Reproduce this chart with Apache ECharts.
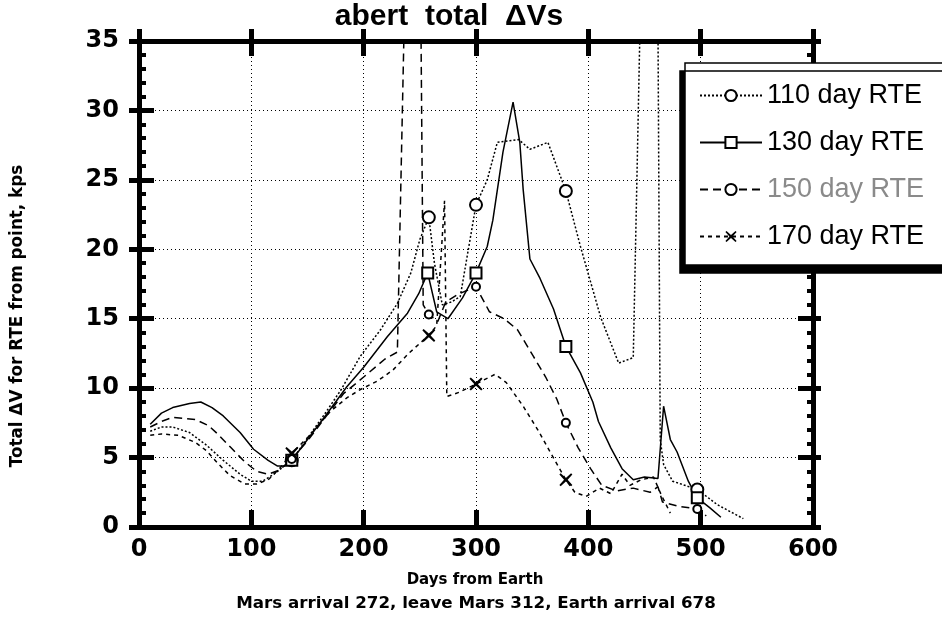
<!DOCTYPE html>
<html>
<head>
<meta charset="utf-8">
<script src="https://cdn.jsdelivr.net/npm/echarts@6/dist/echarts.min.js"></script>
<style>html,body{margin:0;padding:0;background:#fff}#c{width:942px;height:620px}</style>
</head>
<body>
<div id="c"></div>
<script>
// ---- data ----
const seriesNames = ['110 day RTE', '130 day RTE', '150 day RTE', '170 day RTE'];
const xTicks = [0, 100, 200, 300, 400, 500, 600];
const yTicks = [0, 5, 10, 15, 20, 25, 30, 35];

const days110 = [10,20,30,45,60,75,90,100,110,120,128,136,150,165,180,197,215,230,242,250,258,263,270,278,286,300,310,319,338,348,364,380,393,411,427,440,446,462,464,467,475,497,515,538];
const vals110 = [6.9,7.2,7.2,6.8,5.9,4.8,3.8,3.3,3.3,3.8,4.3,4.8,6.4,8.1,9.9,12.3,14.2,16.1,18.3,20.7,22.3,19.0,16.0,16.2,16.6,23.2,25.0,27.7,27.9,27.2,27.7,24.2,20.2,15.1,11.8,12.2,36,36,6.3,4.5,3.3,2.7,1.6,0.6];
const marks110 = [136,258,300,380,497];

const days130 = [10,20,30,45,55,65,75,90,102,115,123,130,136,150,165,185,200,221,239,249,257,265,275,288,300,310,315,324,333,339,342,348,357,369,380,393,404,409,420,430,440,450,462,467,473,479,489,497,508,518];
const vals130 = [7.4,8.2,8.6,8.9,9.0,8.6,8.0,6.8,5.6,4.8,4.4,4.4,4.8,6.3,7.9,10.1,11.5,13.7,15.4,16.8,18.3,15.5,15.0,16.5,18.3,20.2,22.1,27.0,30.6,27.7,24.3,19.3,17.9,15.7,13.0,11.1,9.0,7.6,5.7,4.2,3.4,3.6,3.5,8.7,6.3,5.4,3.3,2.1,1.4,0.7];
const marks130 = [136,257,300,380,497];

const days150 = [10,20,30,50,62,70,82,94,105,115,125,136,150,165,182,200,219,230,236,251,253,258,266,273,285,300,312,325,337,351,362,372,380,391,402,412,425,440,455,462,466,480,497,505];
const vals150 = [7.2,7.6,7.9,7.75,7.3,6.7,5.7,4.7,4.0,3.8,4.1,4.9,6.2,7.8,9.6,10.8,12.1,12.6,36,36,16.0,15.3,14.8,16.2,16.8,17.3,15.5,15.0,14.2,12.3,10.8,9.2,7.5,5.7,4.2,3.0,2.6,2.8,2.5,2.9,1.8,1.5,1.3,0.8];
const marks150 = [136,258,300,380,497];

const days170 = [10,20,35,50,60,70,81,94,105,115,125,136,152,170,185,197,212,226,240,258,265,272,274,285,300,317,327,342,355,366,380,388,398,410,420,430,437,447,458,465,473];
const vals170 = [6.6,6.7,6.6,6.1,5.5,4.6,3.7,3.1,3.1,3.4,4.2,5.3,6.6,8.3,9.3,9.9,10.5,11.3,12.5,13.8,14.5,23.5,9.4,9.7,10.3,11.0,10.4,8.7,7.0,5.4,3.4,2.5,2.2,2.8,2.4,3.8,3.0,3.4,3.6,2.3,1.0];
const marks170 = [136,258,300,380];

// ---- chart ----
const chart = echarts.init(document.getElementById('c'), null, {renderer: 'canvas'});
const FONT = 'Liberation Sans';
const TICKFONT = 'DejaVu Sans';
const symX = 'path://M1,0L5,3.6L9,0L10,1L6.4,5L10,9L9,10L5,6.4L1,10L0,9L3.6,5L0,1Z';

function pairs(d, v) { return d.map((x, i) => [x, v[i]]); }
function sizer(marks, s) { return (val) => (marks.indexOf(val[0]) >= 0 ? s : 0); }

const xBase = {type: 'value', min: xTicks[0], max: xTicks[xTicks.length - 1], interval: 100};
const yBase = {type: 'value', min: yTicks[0], max: yTicks[yTicks.length - 1], interval: 5};
const thick = {color: '#000', width: 5};
const noLine = {show: false};

function mkSeries(name, d, v, marks, symbol, size, lineType, extraItem) {
  return {
    type: 'line', name: name, data: pairs(d, v),
    xAxisIndex: 0, yAxisIndex: 0,
    symbol: symbol, symbolSize: sizer(marks, size),
    showSymbol: true, showAllSymbol: true, clip: true,
    lineStyle: {color: '#000', width: 1.5, type: lineType},
    itemStyle: Object.assign({color: '#000', borderWidth: 1.6}, extraItem || {}),
    emphasis: {disabled: true}
  };
}

chart.setOption({
  animation: false,
  backgroundColor: '#fff',
  grid: {left: 139, right: 129, top: 41, bottom: 93},
  xAxis: [
    Object.assign({}, xBase, {position: 'bottom',
      axisLine: {show: true, onZero: false, lineStyle: thick},
      axisTick: {show: true, inside: true, length: 17, lineStyle: thick},
      axisLabel: {margin: 11, fontSize: 24, fontWeight: 'bold', color: '#000', fontFamily: TICKFONT},
      splitLine: {show: true, lineStyle: {type: [1, 3], color: '#000', width: 1}}}),
    Object.assign({}, xBase, {position: 'top',
      axisLine: {show: true, onZero: false, lineStyle: thick},
      axisTick: {show: true, inside: false, length: 12, lineStyle: thick},
      axisLabel: {show: false}, splitLine: noLine}),
    Object.assign({}, xBase, {position: 'top',
      axisLine: {show: false, onZero: false},
      axisTick: {show: true, inside: true, length: 15, lineStyle: thick},
      axisLabel: {show: false}, splitLine: noLine})
  ],
  yAxis: [
    Object.assign({}, yBase, {position: 'left',
      axisLine: {show: true, onZero: false, lineStyle: thick},
      axisTick: {show: true, inside: false, length: 10, lineStyle: thick},
      axisLabel: {margin: 20, fontSize: 24, fontWeight: 'bold', color: '#000', fontFamily: TICKFONT},
      splitLine: {show: true, lineStyle: {type: [1, 3], color: '#000', width: 1}}}),
    Object.assign({}, yBase, {position: 'left',
      axisLine: {show: false, onZero: false},
      axisTick: {show: true, inside: true, length: 15, lineStyle: thick},
      minorTick: {show: true, splitNumber: 5, length: 7, lineStyle: {color: '#000', width: 4}},
      axisLabel: {show: false}, splitLine: noLine}),
    Object.assign({}, yBase, {position: 'right',
      axisLine: {show: true, onZero: false, lineStyle: thick},
      axisTick: {show: true, inside: false, length: 8, lineStyle: thick},
      axisLabel: {show: false}, splitLine: noLine}),
    Object.assign({}, yBase, {position: 'right',
      axisLine: {show: false, onZero: false},
      axisTick: {show: true, inside: true, length: 15, lineStyle: thick},
      minorTick: {show: true, splitNumber: 5, length: 6, lineStyle: {color: '#000', width: 4}},
      axisLabel: {show: false}, splitLine: noLine})
  ],
  legend: {
    orient: 'vertical', left: 685, top: 63,
    padding: [18, 80, 14, 14], itemGap: 18, itemWidth: 62, itemHeight: 14,
    backgroundColor: '#fff', borderColor: '#000', borderWidth: 1.5,
    shadowColor: '#000', shadowBlur: 0, shadowOffsetX: -5, shadowOffsetY: 8,
    textStyle: {fontSize: 27, color: '#000', fontFamily: FONT, lineHeight: 29},
    selectedMode: false,
    data: [
      {name: seriesNames[0]},
      {name: seriesNames[1]},
      {name: seriesNames[2], textStyle: {color: '#8a8a8a'}},
      {name: seriesNames[3]}
    ]
  },
  graphic: [
    {type: 'text', x: 449, y: 17, z: 10,
     style: {text: 'abert  total  ΔVs', font: 'bold 30px "Liberation Sans"', fill: '#000', align: 'center', verticalAlign: 'middle', textAlign: 'center', textVerticalAlign: 'middle'}},
    {type: 'text', x: 475, y: 580,
     style: {text: 'Days from Earth', font: 'bold 15px "DejaVu Sans"', fill: '#000', align: 'center', verticalAlign: 'middle', textAlign: 'center', textVerticalAlign: 'middle'}},
    {type: 'text', x: 476, y: 604,
     style: {text: 'Mars arrival 272, leave Mars 312, Earth arrival 678', font: 'bold 16.7px "DejaVu Sans"', fill: '#000', align: 'center', verticalAlign: 'middle', textAlign: 'center', textVerticalAlign: 'middle'}},
    {type: 'text', x: 18, y: 316, rotation: Math.PI / 2,
     style: {text: 'Total ΔV for RTE from point, kps', font: 'bold 16.8px "DejaVu Sans"', fill: '#000', align: 'center', verticalAlign: 'middle', textAlign: 'center', textVerticalAlign: 'middle'}}
  ],
  series: [
    mkSeries(seriesNames[0], days110, vals110, marks110, 'emptyCircle', 12, [2, 2]),
    mkSeries(seriesNames[1], days130, vals130, marks130, 'emptyRect', 11, 'solid'),
    mkSeries(seriesNames[2], days150, vals150, marks150, 'emptyCircle', 8, [8, 5], {borderWidth: 1.2}),
    mkSeries(seriesNames[3], days170, vals170, marks170, symX, 13, [4, 4])
  ]
});
</script>
</body>
</html>
